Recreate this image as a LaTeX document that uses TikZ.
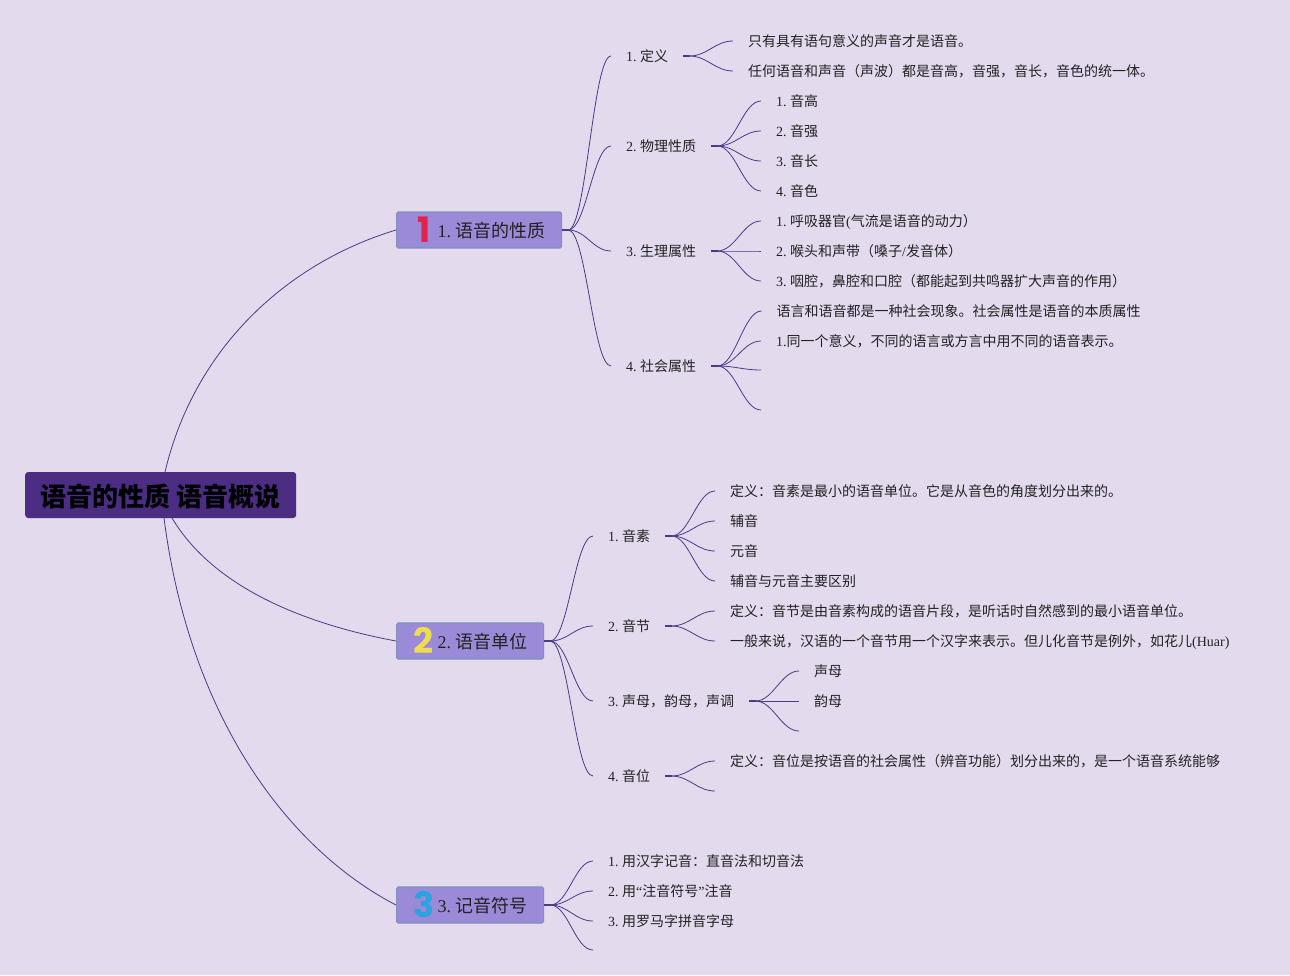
\documentclass[tikz,border=0pt]{standalone}
\usepackage{fontspec}
\setmainfont{Noto Sans CJK SC}
\newfontfamily\latfont{Liberation Serif}
\newfontfamily\iconfont{Poppins}
\usetikzlibrary{calc}
\definecolor{paper}{HTML}{E3DAEE}
\definecolor{linkcol}{HTML}{4A3A88}
\definecolor{rootcol}{HTML}{4B2E83}
\definecolor{topiccol}{HTML}{9B8AD8}
\definecolor{edgecol}{HTML}{7F93BC}
\definecolor{inkcol}{HTML}{222222}
\definecolor{iconone}{HTML}{E0244E}
\definecolor{icontwo}{HTML}{F0DC50}
\definecolor{iconthree}{HTML}{2AA3E0}
\newcommand{\lat}[1]{{\latfont #1}}
\newcommand{\icon}[2]{\makebox[25pt][l]{\makebox[22pt][c]{\smash{\raisebox{-5pt}{\iconfont\bfseries\fontsize{35}{35}\selectfont\color{#1}#2}}}}}
\frenchspacing
\tikzset{
  leaf/.style={anchor=west,inner xsep=15pt,inner ysep=0pt,text height=12pt,text depth=2pt,
    text=inkcol,font=\fontsize{14}{16}\selectfont},
  topic/.style={anchor=west,rectangle,rounded corners=1.5pt,fill=topiccol,draw=edgecol,line width=1.2pt,
    minimum height=36pt,inner xsep=16pt,inner ysep=0pt,text height=18pt,text depth=2.4pt,text=inkcol,font=\fontsize{18}{20}\selectfont},
  root/.style={anchor=west,rectangle,rounded corners=3pt,fill=rootcol,minimum width=271pt,minimum height=46pt,
    inner sep=0pt,text height=24pt,text depth=0.2pt,text=black,font=\fontsize{26}{28}\selectfont\bfseries},
  link/.style={draw=linkcol,line width=0.8pt},
  stub/.style={draw=linkcol,line width=1.5pt},
  branch/.style={to path={-- ++(6,0) .. controls +(18,0) and +(-18,0) .. (\tikztotarget)}}
}
\begin{document}
\begin{tikzpicture}[x=1pt,y=-1pt]
\useasboundingbox (0,0) rectangle (1290,975);
\fill[paper] (0,0) rectangle (1290,975);

% --- Root and topics
\node[root] (root) at (25,495) {语音的性质 语音概说};
\node[topic] (nature) at (396,230) {\icon{iconone}{1}\lat{1. }语音的性质};
\node[topic] (unit) at (396,641) {\icon{icontwo}{2}\lat{2. }语音单位};
\node[topic] (mark) at (396,905) {\icon{iconthree}{3}\lat{3. }记音符号};

\coordinate (rootup) at (165,472);
\coordinate (rootmid) at (172,518);
\coordinate (rootlow) at (164,518);
\draw[link] (rootup) .. controls (195,345) and (290,262) .. (nature.west);
\draw[link] (rootmid) .. controls (215,590) and (310,625) .. (unit.west);
\draw[link] (rootlow) .. controls (190,720) and (290,850) .. (mark.west);

% --- 1. nature
\node[leaf] (define) at (611,56) {\lat{1. }定义};
\node[leaf] (physics) at (611,146) {\lat{2. }物理性质};
\node[leaf] (biology) at (611,251) {\lat{3. }生理属性};
\node[leaf] (social) at (611,366) {\lat{4. }社会属性};
\foreach \kid in {define,physics,biology,social}
  \draw[link] (nature.east) to[branch] (\kid.west);

\node[leaf] (definea) at (733,41) {只有具有语句意义的声音才是语音。};
\node[leaf] (defineb) at (733,71) {任何语音和声音（声波）都是音高，音强，音长，音色的统一体。};
\foreach \kid in {definea,defineb}
  \draw[link] (define.east) to[branch] (\kid.west);

\node[leaf] (pitch) at (761,101) {\lat{1. }音高};
\node[leaf] (loud) at (761,131) {\lat{2. }音强};
\node[leaf] (length) at (761,161) {\lat{3. }音长};
\node[leaf] (timbre) at (761,191) {\lat{4. }音色};
\foreach \kid in {pitch,loud,length,timbre}
  \draw[link] (physics.east) to[branch] (\kid.west);

\node[leaf] (breath) at (761,221) {\lat{1. }呼吸器官\lat{(}气流是语音的动力）};
\node[leaf] (larynx) at (761,251) {\lat{2. }喉头和声带（嗓子\lat{/}发音体）};
\node[leaf] (mouth) at (761,281) {\lat{3. }咽腔，鼻腔和口腔（都能起到共鸣器扩大声音的作用）};
\foreach \kid in {breath,larynx,mouth}
  \draw[link] (biology.east) to[branch] (\kid.west);

\node[leaf] (socialb) at (761.5,311) {语言和语音都是一种社会现象。社会属性是语音的本质属性};
\node[leaf] (socialc) at (761,341) {\lat{1.}同一个意义，不同的语言或方言中用不同的语音表示。};
\coordinate (sociald) at (761,370);
\coordinate (sociale) at (761,410);
\foreach \kid in {socialb.west,socialc.west,sociald,sociale}
  \draw[link] (social.east) to[branch] (\kid);

% --- 2. unit
\node[leaf] (phone) at (593,536) {\lat{1. }音素};
\node[leaf] (syllable) at (593,626) {\lat{2. }音节};
\node[leaf] (tone) at (593,701) {\lat{3. }声母，韵母，声调};
\node[leaf] (phoneme) at (593,776) {\lat{4. }音位};
\foreach \kid in {phone,syllable,tone,phoneme}
  \draw[link] (unit.east) to[branch] (\kid.west);

\node[leaf] (phonea) at (715,491) {定义：音素是最小的语音单位。它是从音色的角度划分出来的。};
\node[leaf] (phoneb) at (715,521) {辅音};
\node[leaf] (phonec) at (715,551) {元音};
\node[leaf] (phoned) at (715,581) {辅音与元音主要区别};
\foreach \kid in {phonea,phoneb,phonec,phoned}
  \draw[link] (phone.east) to[branch] (\kid.west);

\node[leaf] (syllablea) at (715,611) {定义：音节是由音素构成的语音片段，是听话时自然感到的最小语音单位。};
\node[leaf] (syllableb) at (715,641) {一般来说，汉语的一个音节用一个汉字来表示。但儿化音节是例外，如花儿\lat{(Huar)}};
\foreach \kid in {syllablea,syllableb}
  \draw[link] (syllable.east) to[branch] (\kid.west);

\node[leaf] (tonea) at (799,671) {声母};
\node[leaf] (toneb) at (799,701) {韵母};
\coordinate (tonec) at (799,731);
\foreach \kid in {tonea.west,toneb.west,tonec}
  \draw[link] (tone.east) to[branch] (\kid);

\node[leaf] (phonemea) at (715,761) {定义：音位是按语音的社会属性（辨音功能）划分出来的，是一个语音系统能够};
\coordinate (phonemeb) at (715,791);
\foreach \kid in {phonemea.west,phonemeb}
  \draw[link] (phoneme.east) to[branch] (\kid);

% --- 3. mark
\node[leaf] (hanzi) at (593,861) {\lat{1. }用汉字记音：直音法和切音法};
\node[leaf] (zhuyin) at (593,891) {\lat{2. }用\lat{“}注音符号\lat{”}注音};
\node[leaf] (roman) at (593,921) {\lat{3. }用罗马字拼音字母};
\coordinate (markend) at (593,950);
\foreach \kid in {hanzi.west,zhuyin.west,roman.west,markend}
  \draw[link] (mark.east) to[branch] (\kid);

% --- Stubs
\foreach \hub in {nature,unit,mark,define,physics,biology,social,phone,syllable,tone,phoneme}
  \draw[stub] (\hub.east) -- ++(7,0);

\end{tikzpicture}
\end{document}
